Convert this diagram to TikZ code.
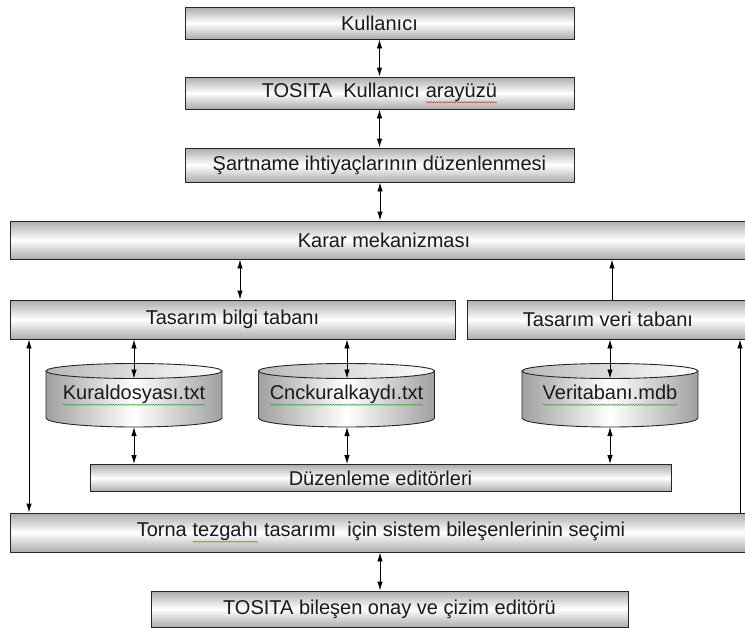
\documentclass[tikz,border=0pt]{standalone}
\usepackage{fontspec}
\setmainfont{Liberation Sans}
\usetikzlibrary{arrows.meta,decorations.pathmorphing}
\definecolor{sqred}{RGB}{225,50,50}
\definecolor{sqgreen}{RGB}{70,165,70}
\definecolor{boxgray}{RGB}{172,172,172}
\definecolor{cylgray}{RGB}{160,160,160}
\definecolor{cyltop}{RGB}{185,185,185}
\newcommand\wavy[2]{\tikz[baseline=(wv.base)]{\node[inner sep=0pt,outer sep=0pt,minimum width=0pt,minimum height=0pt,draw=none,fill=none] (wv) {#2};
  \draw[#1, line width=0.5pt, decorate, decoration={snake, amplitude=0.7pt, segment length=2.5pt}]
    ([yshift=-5pt]wv.base west) -- ([yshift=-5pt]wv.base east);}}
\tikzset{
  box/.style={draw=black!85, line width=0.9pt, top color=boxgray, bottom color=boxgray, middle color=white,
              inner sep=0pt, font=\fontsize{20}{24}\selectfont, text=black!90},
  cyltext/.style={inner sep=0pt, font=\fontsize{20}{24}\selectfont, text=black!90},
  cylline/.style={draw=black!85, line width=0.9pt},
  conn/.style={line width=0.9pt, draw=black},
  both/.style={conn, {Latex[length=9pt,width=5.5pt]}-{Latex[length=9pt,width=5.5pt]}},
  up/.style={conn, -{Latex[length=9pt,width=5.5pt]}},
}
\newcommand\drawcyl[1]{%
  \shade[left color=cylgray, right color=cylgray, middle color=white]
    (#1-88,371) -- (#1-88,418) arc[start angle=180,end angle=360,x radius=88pt,y radius=9pt] -- (#1+88,371) -- cycle;
  \draw[cylline] (#1-88,371) -- (#1-88,418) arc[start angle=180,end angle=360,x radius=88pt,y radius=9pt] -- (#1+88,371);
  \shade[left color=cyltop, right color=white] (#1,371) ellipse [x radius=88pt, y radius=7.5pt];
  \draw[cylline] (#1,371) ellipse [x radius=88pt, y radius=7.5pt];
}
\begin{document}
\begin{tikzpicture}[x=1pt,y=-1pt]
\useasboundingbox (0,0) rectangle (745,629);
\clip (0,0) rectangle (745,629);

% boxes
\node[box, minimum width=389pt, minimum height=32pt] (ku) at (379.5,23) {Kullanıcı};
\node[box, minimum width=389pt, minimum height=32pt] (ui) at (379.5,93) {TOSITA\ \ Kullanıcı \wavy{sqred}{arayüzü}};
\node[box, minimum width=389pt, minimum height=34pt] (sa) at (379.5,165) {Şartname ihtiyaçlarının düzenlenmesi};
\node[box, minimum width=748pt, minimum height=38pt] (ka) at (384,240) {Karar mekanizması};
\node[box, minimum width=445pt, minimum height=39pt] (bi) at (232.5,319.5) {Tasarım bilgi tabanı};
\node[box, minimum width=282pt, minimum height=39pt] (ve) at (608,319.5) {Tasarım veri tabanı};
\node[box, minimum width=581pt, minimum height=27pt] (de) at (380.5,478) {Düzenleme editörleri};
\node[box, minimum width=742pt, minimum height=39pt] (to) at (381,532.5) {Torna \wavy{sqgreen}{tezgahı} tasarımı\ \ için sistem bileşenlerinin seçimi};
\node[box, minimum width=477pt, minimum height=36pt] (bo) at (389.5,609) {TOSITA bileşen onay ve çizim editörü};

% cylinders
\drawcyl{134}
\drawcyl{346.5}
\drawcyl{610}
\node[cyltext] (c1) at (134,395.5) {\wavy{sqgreen}{Kuraldosyası.txt}};
\node[cyltext] (c2) at (346.5,395.5) {\wavy{sqgreen}{Cnckuralkaydı.txt}};
\node[cyltext] (c3) at (610,395.5) {\wavy{sqgreen}{Veritabanı.mdb}};
\coordinate (c1t) at (134,378.5); \coordinate (c1b) at (134,427);
\coordinate (c2t) at (347,378.5); \coordinate (c2b) at (347,427);
\coordinate (c3t) at (610,378.5); \coordinate (c3b) at (610,427);

% x positions of connectors
\coordinate (xl) at (29,0);
\coordinate (xr) at (740,0);
\coordinate (xk) at (240,0);
\coordinate (xv) at (612,0);
\coordinate (xm) at (380,0);

% connectors
\draw[both] (ku) -- (ui);
\draw[both] (ui) -- (sa);
\draw[both] (xm |- sa.south) -- (xm |- ka.north);
\draw[both] (xk |- ka.south) -- (xk |- bi.north);
\draw[up] (xv |- ve.north) -- (xv |- ka.south);
\draw[both] (c1t |- bi.south) -- (c1t);
\draw[both] (c2t |- bi.south) -- (c2t);
\draw[both] (c3t |- ve.south) -- (c3t);
\draw[both] (c1b) -- (c1b |- de.north);
\draw[both] (c2b) -- (c2b |- de.north);
\draw[both] (c3b) -- (c3b |- de.north);
\draw[both] (xl |- bi.south) -- (xl |- to.north);
\draw[up] (xr |- to.north) -- (xr |- ve.south);
\draw[both] (xm |- to.south) -- (xm |- bo.north);
\end{tikzpicture}
\end{document}
